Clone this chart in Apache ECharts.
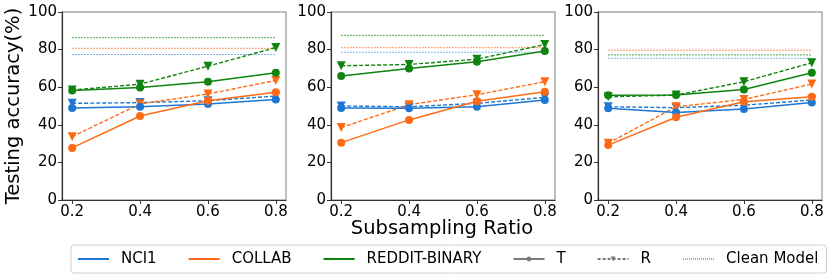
<!DOCTYPE html>
<html>
<head>
<meta charset="utf-8">
<script src="https://cdn.jsdelivr.net/npm/echarts@6/dist/echarts.min.js"></script>
<style>html,body{margin:0;padding:0;background:#fff}#c{width:831px;height:279px}</style>
</head>
<body>
<div id="c"></div>
<script>
const xValues = [0.2, 0.4, 0.6, 0.8];
const xTickLabels = [0.2, 0.4, 0.6, 0.8];
const yTicks = [0, 20, 40, 60, 80, 100];

// Panel 1
const p1_nci1T = [48.9, 49.6, 51.1, 53.5];
const p1_nci1R = [51.4, 51.8, 52.8, 55.3];
const p1_collabT = [27.7, 44.7, 52.8, 57.3];
const p1_collabR = [33.7, 51.1, 56.4, 63.6];
const p1_redditT = [58.3, 59.9, 62.9, 67.7];
const p1_redditR = [58.5, 61.6, 71.2, 81.1];
const p1_clean = [77.4, 80.6, 86.4]; // NCI1, COLLAB, REDDIT

// Panel 2
const p2_nci1T = [48.9, 48.8, 49.6, 53.2];
const p2_nci1R = [50.0, 49.6, 51.4, 54.6];
const p2_collabT = [30.5, 42.6, 52.5, 57.6];
const p2_collabR = [38.5, 50.7, 56.0, 62.9];
const p2_redditT = [65.9, 70.0, 73.5, 79.2];
const p2_redditR = [71.4, 72.1, 74.9, 82.7];
const p2_clean = [78.6, 81.1, 87.6];

// Panel 3
const p3_nci1T = [48.8, 46.6, 48.4, 51.8];
const p3_nci1R = [49.6, 49.1, 50.4, 53.2];
const p3_collabT = [29.2, 44.0, 52.3, 54.9];
const p3_collabR = [30.2, 49.6, 53.5, 61.7];
const p3_redditT = [55.7, 55.8, 58.8, 67.7];
const p3_redditR = [54.9, 55.8, 62.9, 73.0];
const p3_clean = [75.4, 79.7, 77.2];

const datasetNames = ['NCI1', 'COLLAB', 'REDDIT-BINARY'];
const colors = ['#1f77d4', '#ff6b15', '#0f850f'];
const FONT = 'DejaVu Sans';

const panels = [
  {T: [p1_nci1T, p1_collabT, p1_redditT], R: [p1_nci1R, p1_collabR, p1_redditR], clean: p1_clean},
  {T: [p2_nci1T, p2_collabT, p2_redditT], R: [p2_nci1R, p2_collabR, p2_redditR], clean: p2_clean},
  {T: [p3_nci1T, p3_collabT, p3_redditT], R: [p3_nci1R, p3_collabR, p3_redditR], clean: p3_clean}
];

const gridLefts = [62, 331, 598];
const gridW = 224;
const grids = gridLefts.map(l => ({
  left: l, top: 12, width: gridW, height: 188,
  show: true, borderColor: '#a8a8a8', borderWidth: 1.5, backgroundColor: 'transparent'
}));

const xAxes = gridLefts.map((l, i) => ({
  type: 'value', gridIndex: i, min: 0.17, max: 0.83,
  splitLine: {show: false},
  axisLine: {show: true, lineStyle: {color: '#333', width: 1.2}},
  axisTick: {show: true, length: 4, lineStyle: {color: '#333'}, customValues: xTickLabels},
  axisLabel: {show: true, customValues: xTickLabels, fontFamily: FONT, fontSize: 15, color: '#000', margin: 5,
    formatter: v => v.toFixed(1)}
}));
const yAxes = gridLefts.map((l, i) => ({
  type: 'value', gridIndex: i, min: 0, max: 100, interval: 20,
  splitLine: {show: false},
  axisLine: {show: true, lineStyle: {color: '#333', width: 1.2}},
  axisTick: {show: true, length: 4, lineStyle: {color: '#333'}},
  axisLabel: {fontFamily: FONT, fontSize: 15, color: '#000', margin: 5}
}));

const series = [];
panels.forEach((p, pi) => {
  for (let d = 0; d < 3; d++) {
    series.push({
      type: 'line', xAxisIndex: pi, yAxisIndex: pi, silent: true, symbol: 'none',
      data: [[xValues[0], p.clean[d]], [xValues[xValues.length - 1], p.clean[d]]],
      lineStyle: {color: colors[d], width: 1.2, type: [1.5, 1.5], opacity: 0.75},
      z: 1
    });
  }
  for (let d = 0; d < 3; d++) {
    series.push({
      type: 'line', xAxisIndex: pi, yAxisIndex: pi, silent: true,
      data: xValues.map((x, k) => [x, p.R[d][k]]),
      symbol: 'triangle', symbolRotate: 180, symbolSize: 9,
      itemStyle: {color: colors[d]},
      lineStyle: {color: colors[d], width: 1.4, type: [4, 2]},
      z: 2
    });
  }
  for (let d = 0; d < 3; d++) {
    series.push({
      type: 'line', xAxisIndex: pi, yAxisIndex: pi, silent: true,
      data: xValues.map((x, k) => [x, p.T[d][k]]),
      symbol: 'circle', symbolSize: 8,
      itemStyle: {color: colors[d]},
      lineStyle: {color: colors[d], width: 1.5},
      z: 3
    });
  }
});

// Legend-only series (no data)
datasetNames.forEach((n, d) => {
  series.push({name: n, type: 'line', xAxisIndex: 0, yAxisIndex: 0, data: [], symbol: 'circle',
    itemStyle: {color: colors[d]}, lineStyle: {color: colors[d], width: 1.3}});
});
series.push({name: 'T', type: 'line', xAxisIndex: 0, yAxisIndex: 0, data: [], symbol: 'circle',
  itemStyle: {color: '#7a7a7a'}, lineStyle: {color: '#7a7a7a', width: 1.3}});
series.push({name: 'R', type: 'line', xAxisIndex: 0, yAxisIndex: 0, data: [], symbol: 'triangle', symbolRotate: 180,
  itemStyle: {color: '#7a7a7a'}, lineStyle: {color: '#7a7a7a', width: 1, type: [3, 2]}});
series.push({name: 'Clean Model', type: 'line', xAxisIndex: 0, yAxisIndex: 0, data: [], symbol: 'circle',
  itemStyle: {color: '#a8a8a8'}, lineStyle: {color: '#a8a8a8', width: 1, type: [1, 1]}});

const hidden = {opacity: 0};
const chart = echarts.init(document.getElementById('c'), null, {renderer: 'canvas'});
chart.setOption({
  animation: false,
  backgroundColor: '#fff',
  grid: grids,
  xAxis: xAxes,
  yAxis: yAxes,
  legend: {
    data: [
      {name: 'NCI1', itemStyle: hidden},
      {name: 'COLLAB', itemStyle: hidden},
      {name: 'REDDIT-BINARY', itemStyle: hidden},
      {name: 'T'},
      {name: 'R'},
      {name: 'Clean Model', itemStyle: hidden}
    ],
    left: 71, top: 245,
    padding: [5, 8, 5, 6],
    itemWidth: 31, itemHeight: 6, itemGap: 31,
    borderColor: '#d0d0d0', borderWidth: 1, borderRadius: 3,
    selectedMode: false,
    textStyle: {fontFamily: FONT, fontSize: 15, color: '#000', padding: [0, 0, 0, 7], lineHeight: 18}
  },
  graphic: [
    {type: 'text', x: 14, y: 106, rotation: Math.PI / 2,
      style: {text: 'Testing accuracy(%)', font: '19.5px "DejaVu Sans"', fill: '#000', textAlign: 'center', textVerticalAlign: 'middle'}},
    {type: 'text', x: 442, y: 229,
      style: {text: 'Subsampling Ratio', font: '19.5px "DejaVu Sans"', fill: '#000', textAlign: 'center', textVerticalAlign: 'middle'}}
  ],
  series: series
});
</script>
</body>
</html>
